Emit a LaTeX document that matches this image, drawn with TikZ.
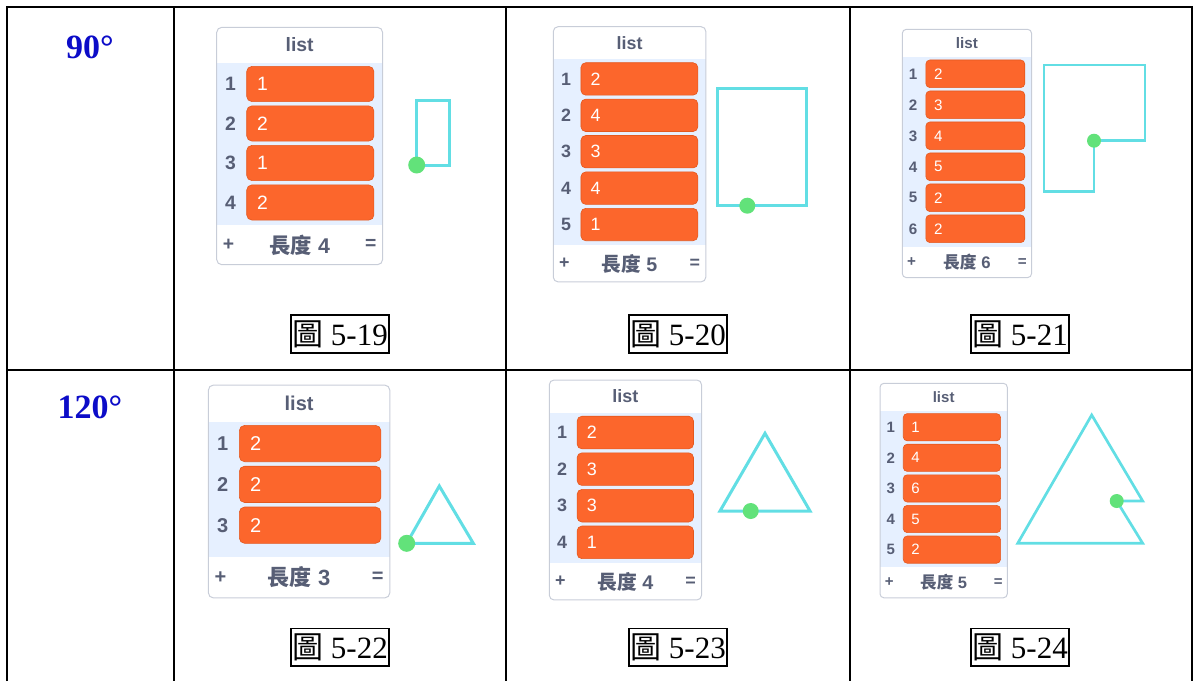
\documentclass[tikz,border=0pt]{standalone}
\usepackage{fontspec}
\setmainfont{Liberation Serif}
\setsansfont{Liberation Sans}
\newfontfamily\cjk{Noto Sans CJK TC}
\usepackage{tikz}
\usepackage{xcolor}

\definecolor{listorange}{RGB}{252,102,44}
\definecolor{listedge}{RGB}{228,88,30}
\definecolor{listblue}{RGB}{230,240,255}
\definecolor{listgray}{RGB}{87,94,117}
\definecolor{listframe}{RGB}{200,205,216}
\definecolor{penline}{RGB}{98,222,228}
\definecolor{pendot}{RGB}{98,226,122}
\definecolor{turncol}{RGB}{12,12,200}

% list monitor: name, top left, row pitch, width, padding under rows, items
\newcommand{\listmonitor}[6]{%
  \foreach \v [count=\k] in {#6} {\xdef\nrows{\k}}%
  \pgfmathsetmacro{\fs}{0.49*#3}%
  \pgfmathsetmacro{\cs}{0.54*#3}%
  \pgfmathsetmacro{\rc}{0.13*#3}%
  \pgfmathsetmacro{\bodyend}{0.9+\nrows+#5}%
  \begin{scope}[shift={#2}, scale=#3]
    \fill[listblue] (0,0.9) rectangle (#4,\bodyend);
    \draw[listframe, line width=1pt, rounded corners=\rc pt] (0,0) rectangle (#4,\bodyend+1);
    \node[monhead] (#1-title) at (#4/2,0.45) {list};
    \foreach \v [count=\i] in {#6} {
      \pgfmathsetmacro{\ytop}{\i-0.01}
      \draw[rowbar] (0.76,\ytop) rectangle (#4-0.22,\ytop+0.89);
      \node[monhead] (#1-n\i) at (0.35,\ytop+0.445) {\i};
      \node[rowval] (#1-v\i) at (1.02,\ytop+0.445) {\v};
    }
    \node[monhead] (#1-plus) at (0.3,\bodyend+0.5) {+};
    \node[monhead, font=\sffamily\bfseries\fontsize{\cs pt}{\cs pt}\selectfont] (#1-len)
      at (#4/2,\bodyend+0.5) {{\cjk\bfseries 長度} \nrows};
    \node[monhead] (#1-eq) at (#4-0.3,\bodyend+0.5) {=};
  \end{scope}}

\begin{document}
\begin{tikzpicture}[x=1pt, y=-1pt,
    grid/.style={line width=2.2pt},
    turnlabel/.style={text=turncol, font=\bfseries\fontsize{34pt}{34pt}\selectfont},
    figcap/.style={draw, line width=1.8pt, inner xsep=1.5pt, inner ysep=5pt, font=\fontsize{31pt}{31pt}\selectfont},
    monhead/.style={text=listgray, inner sep=0pt, font=\sffamily\bfseries\fontsize{\fs pt}{\fs pt}\selectfont},
    rowval/.style={anchor=west, text=white, inner sep=0pt, font=\sffamily\fontsize{\fs pt}{\fs pt}\selectfont},
    rowbar/.style={draw=listedge, fill=listorange, line width=0.6pt, rounded corners=\rc pt},
    penpath/.style={penline, line width=3pt},
    turtledot/.style={circle, fill=pendot, inner sep=0pt, minimum size=#1},
    turtledot/.default=17pt]
  \useasboundingbox (0,0) rectangle (1196,681);

  % table rules
  \draw[grid] (7,681) -- (7,7) -- (1192,7) -- (1192,681);
  \draw[grid] (7,370) -- (1192,370);
  \foreach \x in {174,506,850}
    \draw[grid] (\x,7) -- (\x,681);

  \node[turnlabel] (t90) at (90,47) {90°};
  \node[turnlabel] (t120) at (90,407) {120°};

  % lists
  \listmonitor{m19}{(216.7,27.3)}{39.5}{4.2}{0.11}{1,2,1,2}
  \listmonitor{m20}{(553.3,26.7)}{36.4}{4.19}{0.11}{2,4,3,4,1}
  \listmonitor{m21}{(902.3,29.3)}{31}{4.17}{0.11}{2,3,4,5,2,2}
  \listmonitor{m22}{(208.3,385)}{40.8}{4.45}{0.32}{2,2,2}
  \listmonitor{m23}{(549.3,380)}{36.6}{4.16}{0.11}{2,3,3,1}
  \listmonitor{m24}{(880,383.3)}{30.6}{4.16}{0.11}{1,4,6,5,2}

  % pen drawings
  \draw[penpath] (416.7,165) rectangle (449.3,100.7);
  \node[turtledot] (d19) at (416.7,165) {};

  \draw[penpath] (717.3,205.7) rectangle (806,88.3);
  \node[turtledot=16pt] (d20) at (747.3,205.7) {};

  \draw[penpath, line width=2.7pt] (1094,140.7) -- (1145,140.7) -- (1145,65) -- (1044,65)
    -- (1044,191.7) -- (1094,191.7) -- cycle;
  \node[turtledot=14pt] (d21) at (1094,140.7) {};

  \draw[penpath] (406.7,543.3) -- (473.3,543.3) -- (439.3,486) -- cycle;
  \node[turtledot] (d22) at (406.7,543.3) {};

  \draw[penpath] (720,511) -- (810,511) -- (765,433.3) -- cycle;
  \node[turtledot=16pt] (d23) at (750.7,511) {};

  \draw[penpath, line width=2.7pt] (1116.7,501) -- (1142.7,501) -- (1091.7,415)
    -- (1017.7,543.3) -- (1142.7,543.3) -- cycle;
  \node[turtledot=14pt] (d24) at (1116.7,501) {};

  % captions
  \node[figcap] (c19) at (340,334) {{\cjk 圖} 5-19};
  \node[figcap] (c20) at (678,334) {{\cjk 圖} 5-20};
  \node[figcap] (c21) at (1020,334) {{\cjk 圖} 5-21};
  \node[figcap] (c22) at (340,647) {{\cjk 圖} 5-22};
  \node[figcap] (c23) at (678,647) {{\cjk 圖} 5-23};
  \node[figcap] (c24) at (1020,647) {{\cjk 圖} 5-24};
\end{tikzpicture}
\end{document}
